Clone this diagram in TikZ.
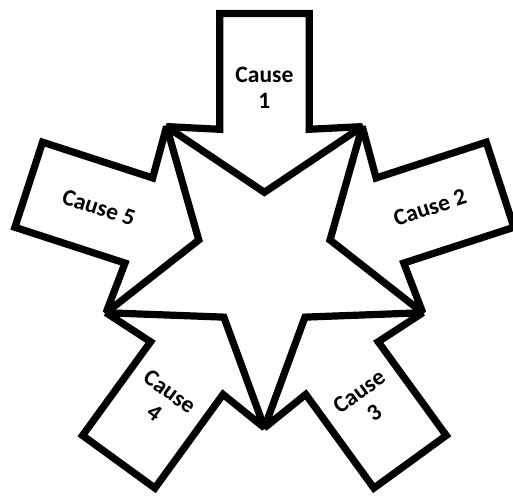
\documentclass[tikz,border=0pt]{standalone}
\usepackage{fontspec}
\setmainfont{Carlito}
\begin{document}
\begin{tikzpicture}[x=1pt,y=1pt,
  arrowshape/.style={draw=black, line width=7.2pt, miter limit=2, line join=miter},
  causetext/.style={font=\bfseries\fontsize{23.5}{26}\selectfont, align=center, inner sep=0pt}]
\useasboundingbox (0,0) rectangle (513,-495);
\clip (0,0) rectangle (513,-495);
\coordinate (ctr) at (264.4,-261.3);
\foreach \k/\txt/\rot in {0/{Cause\\1}/0, 1/{Cause 2}/18, 2/{Cause\\3}/36, 3/{Cause\\4}/-36, 4/{Cause 5}/-18} {
  \begin{scope}[shift={(ctr)}, rotate=-72*\k]
    \draw[arrowshape] (-44.75,247.8) -- (44.75,247.8) -- (44.75,132) -- (97.9,134.7) -- (0,69) -- (-97.9,134.7) -- (-44.75,132) -- cycle;
    \node[causetext, rotate=\rot] (cause\k) at (0,174) {\txt};
  \end{scope}
}
\end{tikzpicture}
\end{document}
